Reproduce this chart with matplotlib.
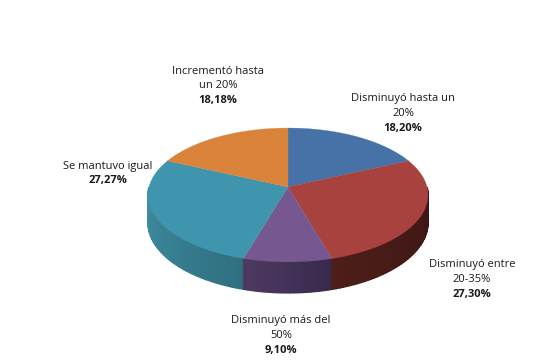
import numpy as np
import matplotlib
matplotlib.use("Agg")
import matplotlib.pyplot as plt
from matplotlib.colors import to_rgb

plt.rcParams['font.family'] = ['Open Sans', 'DejaVu Sans']

categories = ["Disminuyó hasta un\n20%", "Disminuyó entre\n20-35%", "Disminuyó más del\n50%",
              "Se mantuvo igual", "Incrementó hasta\nun 20%"]
values = [18.20, 27.30, 9.10, 27.27, 18.18]
value_labels = ["18,20%", "27,30%", "9,10%", "27,27%", "18,18%"]
colors = ["#4672A8", "#A8423F", "#77578F", "#4095AE", "#DA843B"]
wall_start = ["#2f4a6e", "#3a1512", "#37294c", "#2f7080", "#8a5226"]
wall_end = ["#2f4a6e", "#4e1e19", "#4f3a62", "#4290a6", "#8a5226"]
label_xy = [(403, 98), (472, 265), (281, 321), (108, 166), (218, 71)]

CX, CY, RX, RY, B, H = 288, 187, 139, 66, 0.119, 27.3


def project(theta, r=1.0):
    u, v = r * np.sin(theta), r * np.cos(theta)
    d = 1 + B * v
    return CX + RX * u / d, CY - RY * v / d, H / d


fig = plt.figure(figsize=(5.4, 3.6), dpi=100)
ax = fig.add_axes([0, 0, 1, 1])
ax.set_xlim(0, 540)
ax.set_ylim(360, 0)
ax.axis("off")

fractions = np.array(values) / np.sum(values)
edges = np.concatenate([[0], np.cumsum(fractions)]) * 2 * np.pi

# side wall: only the front half is visible
for i in range(len(values)):
    a0, a1 = edges[i], edges[i + 1]
    lo, hi = max(a0, np.pi / 2), min(a1, 3 * np.pi / 2)
    if hi <= lo:
        continue
    ts = np.linspace(lo, hi, max(int((hi - lo) * 40), 2))
    c0, c1 = np.array(to_rgb(wall_start[i])), np.array(to_rgb(wall_end[i]))
    for j in range(len(ts) - 1):
        x0, y0, h0 = project(ts[j])
        x1, y1, h1 = project(ts[j + 1])
        f = (j + .5) / (len(ts) - 1)
        col = tuple(c0 + (c1 - c0) * f)
        ax.fill([x0, x1, x1, x0], [y0, y1, y1 + h1, y0 + h0], facecolor=col, edgecolor=col,
                lw=1.0, zorder=2 + j * 1e-4 if i != 3 else 2 - j * 1e-4)

# top face
for i in range(len(values)):
    t = np.linspace(edges[i], edges[i + 1], 120)
    x, y, _ = project(t)
    ax.fill(np.r_[CX, x], np.r_[CY, y], color=colors[i], lw=0.2, zorder=3)

# labels
for cat, val, (x, y) in zip(categories, value_labels, label_xy):
    lines = cat.split("\n")
    for k, line in enumerate(lines):
        ax.text(x, y + 15 * k, line, ha="center", va="center", fontsize=8, color="#1a1a1a")
    ax.text(x, y + 15 * len(lines), val, ha="center", va="center", fontsize=8,
            fontweight="bold", color="#1a1a1a")

fig.savefig("out.png", dpi=100)
